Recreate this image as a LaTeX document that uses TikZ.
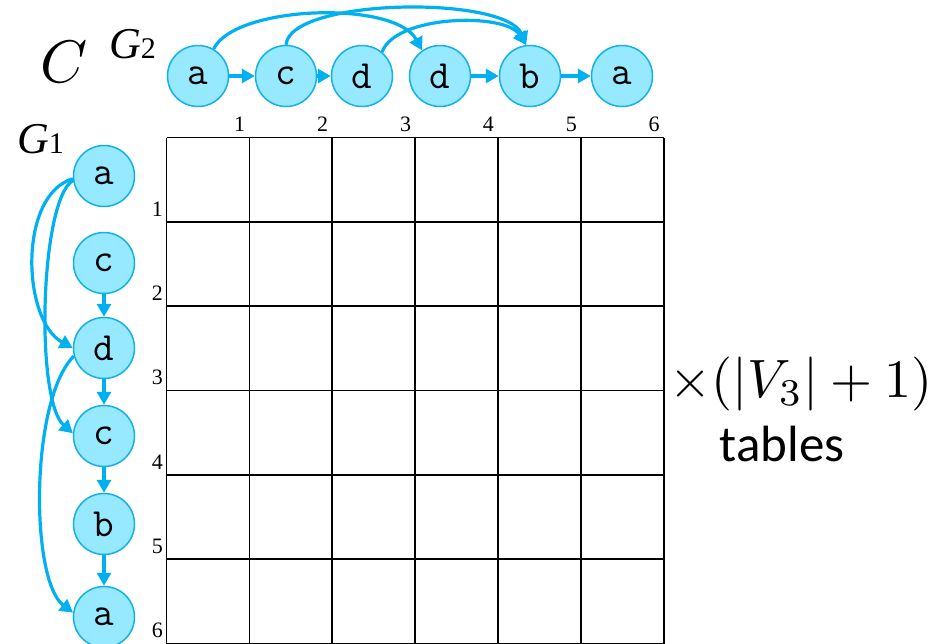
\documentclass[tikz,border=0pt]{standalone}
\usepackage{fontspec}
\setmainfont{Liberation Serif}
\newfontfamily\calfont{Carlito}
\usetikzlibrary{arrows.meta}
\definecolor{nodefill}{RGB}{150,233,255}
\definecolor{nodeline}{RGB}{20,176,235}
\definecolor{arrowc}{RGB}{0,176,240}
\begin{document}
\begin{tikzpicture}[x=1pt,y=-1pt,
  vtx/.style={circle, draw=nodeline, line width=1.5pt, fill=nodefill, minimum size=61pt, inner sep=0pt, font=\ttfamily\fontsize{40}{40}\selectfont},
  edge/.style={draw=arrowc, line width=3.2pt, -{Triangle[length=13pt,width=14pt]}},
  gridline/.style={line width=1.8pt, draw=black},
  lbl/.style={font=\fontsize{22}{22}\selectfont, inner sep=0pt},
  big/.style={inner sep=0pt, scale=5.4}]
\useasboundingbox (0,0) rectangle (937,643);

% grid
\foreach \i in {0,...,6} {
  \draw[gridline] (166.5+82.9*\i,137.5) -- (166.5+82.9*\i,643.7);
  \draw[gridline] (166.5,137.5+84.36*\i) -- (663.9,137.5+84.36*\i);
}
\foreach \i in {1,...,6} {
  \node[lbl, anchor=base east] (col\i) at (166.5+82.9*\i-4,131) {\i};
  \node[lbl, anchor=base east] (row\i) at (163,216+84.36*\i-84.36) {\i};
}

% G2 nodes
\node[vtx] (t1) at (198,76) {a};
\node[vtx] (t2) at (286,76) {c};
\node[vtx] (t3) at (362,76) {d};
\node[vtx] (t4) at (440,76) {d};
\node[vtx] (t5) at (530,76) {b};
\node[vtx] (t6) at (622,76) {a};

\draw[edge] (t1) -- (t2);
\draw[edge] (t2) -- (t3);
\draw[edge] (t4) -- (t5);
\draw[edge] (t5) -- (t6);
\draw[edge] (t1.60) .. controls (235,5) and (395,0) .. (t4.125);
\draw[edge] (t2.90) .. controls (290,-2) and (505,-5) .. (t5.97);
\draw[edge] (t3.50) .. controls (395,15) and (505,12) .. (t5.97);

% G1 nodes
\node[vtx] (l1) at (104,176) {a};
\node[vtx] (l2) at (104,263) {c};
\node[vtx] (l3) at (104,348) {d};
\node[vtx] (l4) at (104,436) {c};
\node[vtx] (l5) at (104,524) {b};
\node[vtx] (l6) at (104,617) {a};

\draw[edge] (l2) -- (l3);
\draw[edge] (l3) -- (l4);
\draw[edge] (l4) -- (l5);
\draw[edge] (l5) -- (l6);
\draw[edge] (l1.185) .. controls (18,195) and (22,320) .. (l3.180);
\draw[edge] (l1.188) .. controls (40,200) and (35,400) .. (l4.175);
\draw[edge] (l3.195) .. controls (30,400) and (30,580) .. (l6.172);

% labels
\node[inner sep=0pt, anchor=base, scale=6] (Cl) at (64,82) {$C$};
\node[inner sep=0pt, anchor=base west] (g2) at (109,58) {{\fontsize{44}{44}\selectfont\itshape G}{\fontsize{30}{30}\selectfont 2}};
\node[inner sep=0pt, anchor=base west] (g1) at (17,153) {{\fontsize{44}{44}\selectfont\itshape G}{\fontsize{30}{30}\selectfont 1}};
\node[big, anchor=base] (mult) at (801,397) {$\times(|V_3|+1)$};
\node[inner sep=0pt, anchor=base, font=\calfont\fontsize{51}{51}\selectfont] (tab) at (782,461) {tables};
\node[big, anchor=east] (par) at (7,532) {$)$};
\end{tikzpicture}
\end{document}
